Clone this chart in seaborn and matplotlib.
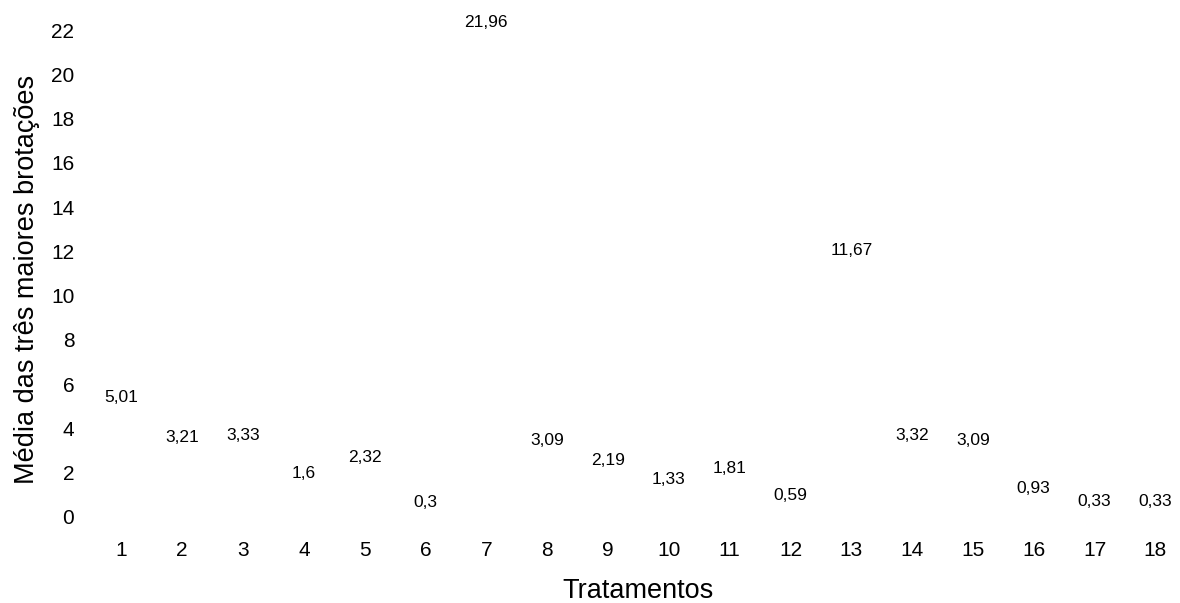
import matplotlib
matplotlib.use("Agg")
import matplotlib.pyplot as plt
import seaborn as sns
import pandas as pd

# data
tratamentos = [str(i) for i in range(1, 19)]
medias = [5.01, 3.21, 3.33, 1.6, 2.32, 0.3, 21.96, 3.09, 2.19,
          1.33, 1.81, 0.59, 11.67, 3.32, 3.09, 0.93, 0.33, 0.33]
y_ticks = [0, 2, 4, 6, 8, 10, 12, 14, 16, 18, 20, 22]

df = pd.DataFrame({"Tratamentos": tratamentos, "Media": medias})

sns.set_theme(style="white")
plt.rcParams["font.family"] = ["Liberation Sans", "DejaVu Sans"]

fig = plt.figure(figsize=(11.8, 6.03), dpi=100)
ax = fig.add_axes([91 / 1180, 86 / 603, 1089 / 1180, 487 / 603])

# bars have no fill in the original, only the value labels show
sns.barplot(data=df, x="Tratamentos", y="Media", color="white",
            width=0.6, ax=ax)

labels = [str(v).replace(".", ",") for v in medias]
ax.bar_label(ax.containers[0], labels=labels, padding=0.5, fontsize=12.5,
             color="black", clip_on=False)

ax.set_xlim(-0.5, 17.405)
ax.set_ylim(0, 22)
ax.set_yticks(y_ticks)
ax.tick_params(axis="both", length=0, labelsize=15, colors="black")
ax.tick_params(axis="x", pad=17)
ax.tick_params(axis="y", pad=12)

ax.set_xlabel("Tratamentos", fontsize=19.5, color="black", va="center")
ax.set_ylabel("Média das três maiores brotações", fontsize=19.5,
              color="black", va="center")
ax.xaxis.set_label_coords(0.502, -0.152)
ax.yaxis.set_label_coords(-0.0588, 0.488)

sns.despine(ax=ax, left=True, bottom=True)

fig.savefig("out.png", dpi=100)
